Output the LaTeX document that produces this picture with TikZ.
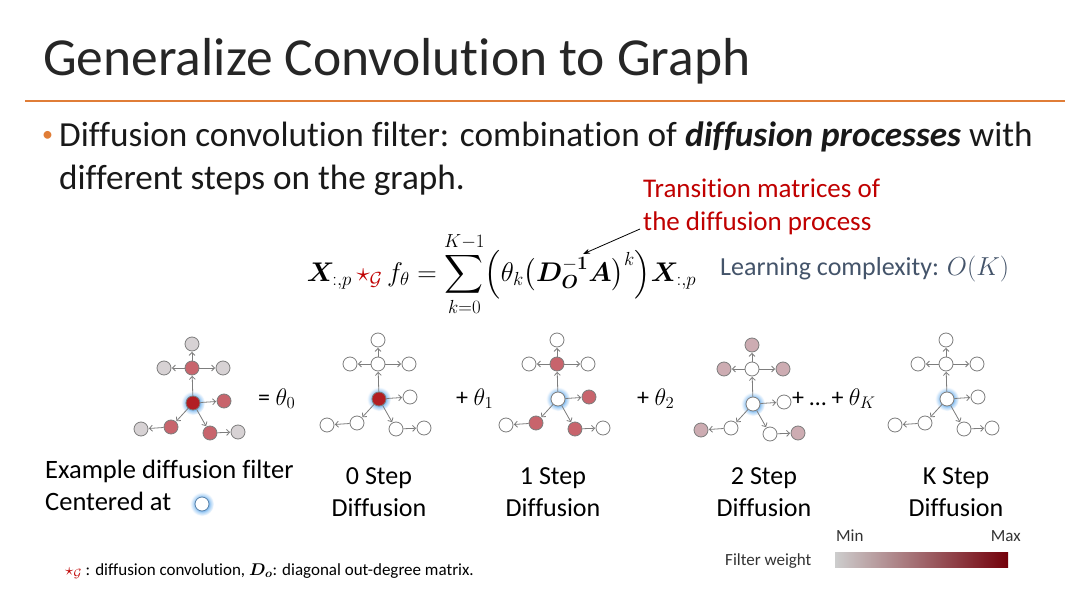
\RequirePackage{fix-cm}
\documentclass[tikz,border=0pt]{standalone}
\usepackage{amsmath,amssymb,bm}
\usepackage{fontspec}
\setmainfont{Carlito}[Ligatures={NoCommon}]
\usetikzlibrary{arrows.meta}
\definecolor{accent}{RGB}{224,125,55}
\definecolor{tred}{RGB}{192,0,0}
\definecolor{lblue}{RGB}{68,84,106}
\definecolor{dred}{RGB}{178,30,35}
\definecolor{mred}{RGB}{200,100,108}
\definecolor{pgray}{RGB}{205,172,178}
\definecolor{lgray}{RGB}{215,210,212}
\definecolor{edgegray}{RGB}{125,125,125}
\definecolor{glowc}{RGB}{125,185,240}
\definecolor{barL}{RGB}{205,205,205}
\definecolor{barM}{RGB}{180,95,100}
\definecolor{barR}{RGB}{115,0,10}
\pgfdeclareradialshading{haloshade}{\pgfpoint{0bp}{0bp}}{color(0bp)=(glowc); color(14bp)=(glowc); color(18bp)=(glowc!55); color(25bp)=(white); color(50bp)=(white)}
\tikzset{
  gn/.style={circle, draw=edgegray, line width=0.8pt, minimum size=14pt, inner sep=0pt},
  gedge/.style={draw=edgegray, line width=0.8pt, -{Straight Barb[length=3pt,width=6pt]}, shorten >=0.5pt},
  lbl/.style={anchor=base west, inner sep=0pt},
  steplbl/.style={font=\fontsize{26}{32}\selectfont, align=center, anchor=base, inner sep=0pt},
  halo/.style={shading=haloshade},
}
\newcommand{\gph}[6]{%
 \begin{scope}[shift={(#2,#3)}]
  \shade[halo] (0,0) circle (12pt);
  \node[gn, fill=#4] (#1C) at (0,0) {};
  \node[gn, fill=#5] (#1U) at (-1,-35) {};
  \node[gn, fill=#6] (#1T) at (-1,-59) {};
  \node[gn, fill=#6] (#1L) at (-29,-35) {};
  \node[gn, fill=#6] (#1R) at (30,-35) {};
  \node[gn, fill=#5] (#1CR) at (31,-2) {};
  \node[gn, fill=#5] (#1LL) at (-22,24) {};
  \node[gn, fill=#6] (#1LLL) at (-52,26) {};
  \node[gn, fill=#5] (#1LR) at (17,30) {};
  \node[gn, fill=#6] (#1LRR) at (45,29) {};
  \draw[gedge] (#1C) -- (#1U);
  \draw[gedge] (#1U) -- (#1T);
  \draw[gedge] (#1U) -- (#1L);
  \draw[gedge] (#1U) -- (#1R);
  \draw[gedge] (#1C) -- (#1CR);
  \draw[gedge] (#1C) -- (#1LL);
  \draw[gedge] (#1LL) -- (#1LLL);
  \draw[gedge] (#1C) -- (#1LR);
  \draw[gedge] (#1LR) -- (#1LRR);
 \end{scope}}
\begin{document}
\begin{tikzpicture}[x=1pt,y=-1pt]
\useasboundingbox (0,0) rectangle (1080,607);
\fill[white] (0,0) rectangle (1080,607);
% title
\node[lbl, font=\fontsize{53.5}{60}\selectfont, text=black!85] (title) at (43,76) {Generalize Convolution to Graph};
\coordinate (ruleL) at (25,101);
\coordinate (ruleR) at (1065,101);
\draw[accent, line width=2pt] (ruleL) -- (ruleR);
% bullet
\node[lbl, font=\fontsize{22}{26}\selectfont, text=accent] (bul) at (42,142) {•};
\node[lbl, font=\fontsize{35.2}{40}\selectfont, text=black!90] (b1) at (59,147) {Diffusion convolution filter: combination of \textbf{\textit{diffusion processes}} with};
\node[lbl, font=\fontsize{35.2}{40}\selectfont, text=black!90] (b2) at (59,190) {different steps on the graph.};
% red note
\node[lbl, font=\fontsize{27}{30}\selectfont, text=tred] (tr1) at (643,198) {Transition matrices of};
\node[lbl, font=\fontsize{27}{30}\selectfont, text=tred] (tr2) at (643,230) {the diffusion process};
% formula
\node[font=\fontsize{27}{30}\selectfont, inner sep=0pt] (eq) at (501.5,274) {$\displaystyle \bm{X}_{:,p}\,{\color{tred}\star_{\mathcal{G}}}\, f_\theta = \sum_{k=0}^{K-1}\Bigl(\theta_k\bigl(\bm{D}_{\bm{O}}^{-\bm{1}}\bm{A}\bigr)^{k}\Bigr)\bm{X}_{:,p}$};
\coordinate (arrS) at (640,229);
\coordinate (arrE) at (583,254);
\draw[line width=0.8pt, -{Stealth[length=7pt,width=5pt]}] (arrS) -- (arrE);
\node[lbl, font=\fontsize{26}{30}\selectfont, text=lblue] (lc) at (720,276) {Learning complexity: $O(K)$};
% graphs
\gph{a}{193}{403}{dred}{mred}{lgray}
\gph{b}{379}{399}{dred}{white}{white}
\gph{c}{558}{399}{white}{mred}{white}
\gph{d}{753}{404}{white}{white}{pgray}
\gph{e}{947}{399}{white}{white}{white}
% theta labels
\node[lbl, font=\fontsize{24}{26}\selectfont] (t0) at (258,405) {= $\theta_0$};
\node[lbl, font=\fontsize{24}{26}\selectfont] (t1) at (456,405) {+ $\theta_1$};
\node[lbl, font=\fontsize{24}{26}\selectfont] (t2) at (637,405) {+ $\theta_2$};
\node[lbl, font=\fontsize{24}{26}\selectfont] (tk) at (792,405) {+ … + $\theta_K$};
% bottom labels
\node[lbl, font=\fontsize{26.5}{32}\selectfont] (ex1) at (45,478) {Example diffusion filter};
\node[lbl, font=\fontsize{26.5}{32}\selectfont] (ex2) at (45,510) {Centered at};
\shade[halo] (202,504) circle (12pt);
\node[gn, fill=white, draw=glowc!70!black] (exc) at (202,504) {};
\node[steplbl] (s0) at (379,516) {0 Step\\Diffusion};
\node[steplbl] (s1) at (553,516) {1 Step\\Diffusion};
\node[steplbl] (s2) at (764,516) {2 Step\\Diffusion};
\node[steplbl] (sk) at (956,516) {K Step\\Diffusion};
% footnote
\node[lbl, font=\fontsize{17}{20}\selectfont] (fn) at (65,575) {${\color{tred}\star_{\mathcal{G}}}$ : diffusion convolution, $\bm{D_o}$: diagonal out-degree matrix.};
% legend
\node[lbl, font=\fontsize{17}{18}\selectfont, text=black!80] (mn) at (836,541) {Min};
\node[anchor=base east, inner sep=0pt, font=\fontsize{17}{18}\selectfont, text=black!80] (mx) at (1021,541) {Max};
\node[lbl, font=\fontsize{17}{18}\selectfont, text=black!80] (fw) at (725,565) {Filter weight};
\shade[left color=barL, middle color=barM, right color=barR] (835,552) rectangle (1008,567);
\end{tikzpicture}
\end{document}
